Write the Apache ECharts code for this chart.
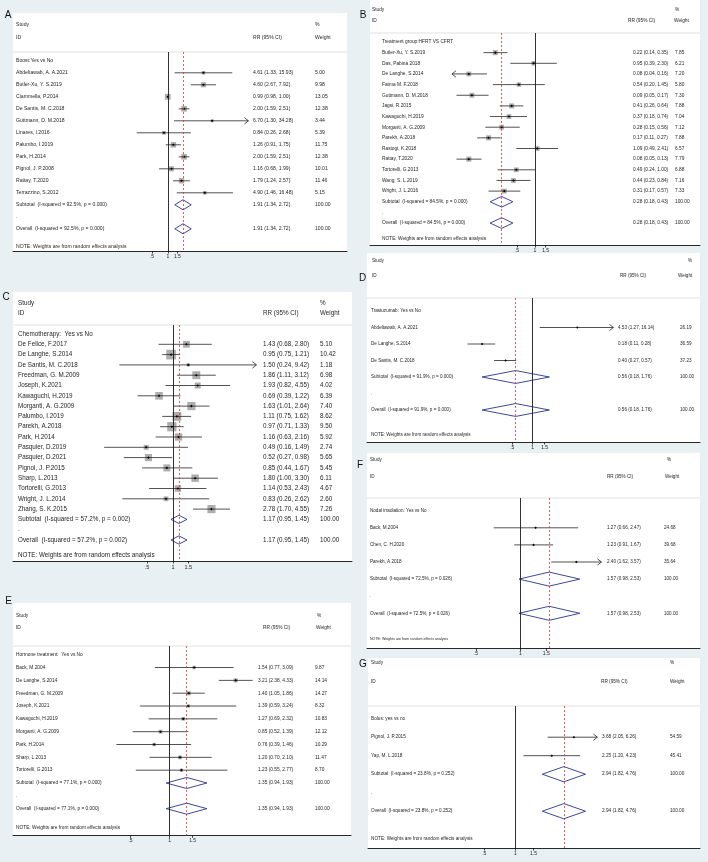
<!DOCTYPE html>
<html><head><meta charset="utf-8">
<script src="https://cdn.jsdelivr.net/npm/echarts@6.0.0/dist/echarts.min.js"></script>
<style>html,body{margin:0;padding:0;background:#e8f0f3}#c{width:708px;height:862px}</style>
</head><body><div id="c"></div>
<script>
// ================= DATA =================
const tickValues = [0.5, 1, 1.5];
const tickLabels = ['.5', '1', '1.5'];
const noteText = 'NOTE: Weights are from random effects analysis';

// Panel A
const aGroup = 'Boost:Yes vs No';
const aStudies = ['Abdeltawab, A. A.2021','Butler-Xu, Y. S.2019','Ciammella, P.2014','De Santis, M. C.2018','Guttmann, D. M.2018','Linares, I.2016','Palumbo, I.2019','Park, H.2014','Pignol, J. P.2008','Rattay, T.2020','Terrazzino, S.2012'];
const aRR = [4.61, 4.60, 0.99, 2.00, 6.70, 0.84, 1.26, 2.00, 1.16, 1.79, 4.90];
const aLo = [1.33, 2.67, 0.98, 1.59, 1.30, 0.26, 0.91, 1.59, 0.68, 1.24, 1.46];
const aHi = [15.93, 7.92, 1.00, 2.51, 34.28, 2.68, 1.75, 2.51, 1.99, 2.57, 16.48];
const aWeight = [5.00, 9.98, 13.05, 12.38, 3.44, 5.39, 11.75, 12.38, 10.01, 11.46, 5.15];
const aPooled = [1.91, 1.34, 2.72];
const aHet = ['92.5%', '0.000'];

// Panel B
const bGroup = 'Treatment group:HFRT VS CFRT';
const bStudies = ['Butler-Xu, Y. S.2019','Das, Pabina 2018','De Langhe, S.2014','Fatma M. F.2018','Guttmann, D. M.2018','Jagsi, R.2015','Kawaguchi, H.2019','Morganti, A. G.2009','Parekh, A.2018','Rastogi, K.2018','Rattay, T.2020','Tortorelli, G.2013','Wang, S. L.2019','Wright, J. L.2016'];
const bRR = [0.22, 0.95, 0.08, 0.54, 0.09, 0.41, 0.37, 0.28, 0.17, 1.09, 0.08, 0.49, 0.44, 0.31];
const bLo = [0.14, 0.39, 0.04, 0.20, 0.05, 0.26, 0.18, 0.15, 0.11, 0.49, 0.05, 0.24, 0.23, 0.17];
const bHi = [0.35, 2.30, 0.16, 1.45, 0.17, 0.64, 0.74, 0.56, 0.27, 2.41, 0.13, 1.00, 0.84, 0.57];
const bWeight = [7.85, 6.21, 7.20, 5.80, 7.30, 7.88, 7.04, 7.12, 7.88, 6.57, 7.79, 6.88, 7.16, 7.33];
const bPooled = [0.28, 0.18, 0.43];
const bHet = ['84.5%', '0.000'];

// Panel C
const cGroup = 'Chemotherapy:  Yes vs No';
const cStudies = ['De Felice, F.2017','De Langhe, S.2014','De Santis, M. C.2018','Freedman, G. M.2009','Joseph, K.2021','Kawaguchi, H.2019','Morganti, A. G.2009','Palumbo, I.2019','Parekh, A.2018','Park, H.2014','Pasquier, D.2019','Pasquier, D.2021','Pignol, J. P.2015','Sharp, L.2013','Tortorelli, G.2013','Wright, J. L.2014','Zhang, S. K.2015'];
const cRR = [1.43, 0.95, 1.50, 1.86, 1.93, 0.69, 1.63, 1.11, 0.97, 1.16, 0.49, 0.52, 0.85, 1.80, 1.14, 0.83, 2.78];
const cLo = [0.68, 0.75, 0.24, 1.11, 0.82, 0.39, 1.01, 0.75, 0.71, 0.63, 0.16, 0.27, 0.44, 1.00, 0.53, 0.26, 1.70];
const cHi = [2.80, 1.21, 9.42, 3.12, 4.55, 1.22, 2.64, 1.62, 1.33, 2.16, 1.49, 0.98, 1.67, 3.30, 2.43, 2.62, 4.55];
const cWeight = [5.10, 10.42, 1.18, 6.98, 4.02, 6.39, 7.40, 8.62, 9.50, 5.92, 2.74, 5.65, 5.45, 6.11, 4.67, 2.60, 7.26];
const cPooled = [1.17, 0.95, 1.45];
const cHet = ['57.2%', '0.002'];

// Panel D
const dGroup = 'Trastuzumab: Yes vs No';
const dStudies = ['Abdeltawab, A. A.2021','De Langhe, S.2014','De Santis, M. C.2018'];
const dRR = [4.53, 0.18, 0.40];
const dLo = [1.27, 0.11, 0.27];
const dHi = [16.14, 0.28, 0.57];
const dWeight = [26.19, 36.59, 37.23];
const dPooled = [0.56, 0.18, 1.76];
const dHet = ['91.9%', '0.000'];

// Panel E
const eGroup = 'Hormone treatment:  Yes vs No';
const eStudies = ['Back, M.2004','De Langhe, S.2014','Freedman, G. M.2009','Joseph, K.2021','Kawaguchi, H.2019','Morganti, A. G.2009','Park, H.2014','Sharp, L.2013','Tortorelli, G.2013'];
const eRR = [1.54, 3.21, 1.40, 1.39, 1.27, 0.85, 0.76, 1.20, 1.23];
const eLo = [0.77, 2.38, 1.05, 0.59, 0.69, 0.52, 0.39, 0.70, 0.55];
const eHi = [3.09, 4.33, 1.86, 3.24, 2.32, 1.39, 1.46, 2.10, 2.77];
const eWeight = [9.87, 14.14, 14.27, 8.32, 10.83, 12.12, 10.29, 11.47, 8.70];
const ePooled = [1.35, 0.94, 1.93];
const eHet = ['77.1%', '0.000'];

// Panel F
const fGroup = 'Nodal irradiation: Yes vs No';
const fStudies = ['Back, M.2004','Chen, C. H.2020','Parekh, A.2018'];
const fRR = [1.27, 1.23, 2.40];
const fLo = [0.66, 0.91, 1.62];
const fHi = [2.47, 1.67, 3.57];
const fWeight = [24.68, 39.68, 35.64];
const fPooled = [1.57, 0.98, 2.53];
const fHet = ['72.5%', '0.026'];

// Panel G
const gGroup = 'Bolus: yes vs no';
const gStudies = ['Pignol, J. P.2015','Yap, M. L.2018'];
const gRR = [3.68, 2.25];
const gLo = [2.05, 1.20];
const gHi = [6.26, 4.23];
const gWeight = [54.59, 45.41];
const gPooled = [2.94, 1.82, 4.76];
const gHet = ['23.8%', '0.252'];

// ================= LAYOUT (pixels) =================
const layout = {
  A:{x0:13,x1:347,top:13,sepY:52,axisY:251,row0Y:60.8,dy:12.0,px1:168,k:23.2,clipMin:1/32,clipMax:32,studyY:25,idY:38,headX:16,nameX:16,rrX:253,rrHeadX:253,wX:315,wHeadX:315,pctX:315,font:5.1,tickFont:5,box:1.6,dia:0.42,letter:[8,15.5]},
  B:{x0:370,x1:700,top:0,sepY:33,axisY:245,row0Y:42,dy:10.65,px1:535,k:26.2,clipMin:0.042,clipMax:24,studyY:10,idY:21,headX:372,nameX:382,rrX:633,rrHeadX:628,wX:675,wHeadX:674,pctX:675,font:4.8,tickFont:5,box:1.8,dia:0.5,letter:[363,15.5]},
  C:{x0:13,x1:352,top:292,sepY:325,axisY:561,row0Y:334,dy:10.3,px1:173,k:37.6,clipMin:0.109,clipMax:9.2,studyY:303,idY:313,headX:18,nameX:18,rrX:263,rrHeadX:263,wX:320,wHeadX:320,pctX:320,font:6.3,tickFont:5.5,box:3.0,dia:0.4,letter:[6,297]},
  D:{x0:367,x1:700,top:253,sepY:298,axisY:442,row0Y:311,dy:16.5,px1:532.7,k:29.5,clipMin:0.065,clipMax:15.4,studyY:261,idY:276,headX:372,nameX:371,rrX:618,rrHeadX:620,wX:680,wHeadX:678,pctX:688,font:4.6,tickFont:5,box:0,dia:0.39,letter:[362.5,278]},
  E:{x0:13,x1:351,top:603,sepY:646,axisY:835.3,row0Y:654.7,dy:12.83,px1:169.7,k:56.6,clipMin:0.2,clipMax:5,studyY:616,idY:628,headX:16,nameX:16,rrX:258,rrHeadX:263,wX:315,wHeadX:316,pctX:317,font:4.8,tickFont:5,box:1.1,dia:0.43,letter:[8.5,601.5]},
  F:{x0:367,x1:700,top:453,sepY:498,axisY:648.5,row0Y:510.7,dy:17.1,px1:520.3,k:64,clipMin:0.28,clipMax:3.55,studyY:460,idY:477,headX:370,nameX:370,rrX:607,rrHeadX:607,wX:664,wHeadX:665,pctX:667,font:4.6,noteFont:3.6,tickFont:5,box:0,dia:0.41,letter:[360,465]},
  G:{x0:368,x1:700,top:658,sepY:706,axisY:848,row0Y:718.7,dy:18.5,px1:515.3,k:45,clipMin:0.16,clipMax:6.2,studyY:663,idY:682,headX:371,nameX:371,rrX:602,rrHeadX:601,wX:670,wHeadX:670,pctX:670,font:4.7,tickFont:5,box:0,dia:0.41,letter:[363,664]}
};

const panelData = [
  {id:'A',group:aGroup,studies:aStudies,rr:aRR,lo:aLo,hi:aHi,w:aWeight,pooled:aPooled,het:aHet},
  {id:'B',group:bGroup,studies:bStudies,rr:bRR,lo:bLo,hi:bHi,w:bWeight,pooled:bPooled,het:bHet},
  {id:'C',group:cGroup,studies:cStudies,rr:cRR,lo:cLo,hi:cHi,w:cWeight,pooled:cPooled,het:cHet},
  {id:'D',group:dGroup,studies:dStudies,rr:dRR,lo:dLo,hi:dHi,w:dWeight,pooled:dPooled,het:dHet},
  {id:'E',group:eGroup,studies:eStudies,rr:eRR,lo:eLo,hi:eHi,w:eWeight,pooled:ePooled,het:eHet},
  {id:'F',group:fGroup,studies:fStudies,rr:fRR,lo:fLo,hi:fHi,w:fWeight,pooled:fPooled,het:fHet},
  {id:'G',group:gGroup,studies:gStudies,rr:gRR,lo:gLo,hi:gHi,w:gWeight,pooled:gPooled,het:gHet}
];

// ================= RENDER =================
const FONT = '"Liberation Sans", Arial, Helvetica, sans-serif';
const TXT = '#1e1e1e';
function txt(x, y, text, size, align, color) {
  align = align || 'left';
  return {type:'text', x:x, y:y, silent:true,
    style:{text:text, font:size + 'px ' + FONT, fill:color || TXT,
      textAlign:align, textVerticalAlign:'middle', align:align, verticalAlign:'middle'}};
}
function fmtCI(r, l, h) { return r.toFixed(2) + ' (' + l.toFixed(2) + ', ' + h.toFixed(2) + ')'; }
function tickFmt(v) {
  const i = tickValues.findIndex(t => Math.abs(t - v) < 1e-6);
  return i >= 0 ? tickLabels[i] : '';
}

function studyRenderer(L) {
  return function (params, api) {
    const rr = api.value(0), row = api.value(1), lo = api.value(2), hi = api.value(3), w = api.value(4);
    const loC = Math.max(lo, L.clipMin), hiC = Math.min(hi, L.clipMax);
    const pL = api.coord([loC, row]), pH = api.coord([hiC, row]), pR = api.coord([rr, row]);
    const ch = [];
    if (L.box > 0) {
      const s = L.box * Math.sqrt(w);
      ch.push({type:'rect', shape:{x:pR[0] - s / 2, y:pR[1] - s / 2, width:s, height:s}, style:{fill:'#adadad'}});
    }
    ch.push({type:'line', shape:{x1:pL[0], y1:pL[1], x2:pH[0], y2:pH[1]}, style:{stroke:'#262626', lineWidth:0.8}});
    const a = 4, h = 3.2;
    if (hi > L.clipMax) ch.push({type:'polyline', shape:{points:[[pH[0] - a, pH[1] - h], [pH[0], pH[1]], [pH[0] - a, pH[1] + h]]}, style:{stroke:'#262626', lineWidth:0.8, fill:'none'}});
    if (lo < L.clipMin) ch.push({type:'polyline', shape:{points:[[pL[0] + a, pL[1] - h], [pL[0], pL[1]], [pL[0] + a, pL[1] + h]]}, style:{stroke:'#262626', lineWidth:0.8, fill:'none'}});
    const r = 1.3;
    ch.push({type:'polygon', shape:{points:[[pR[0] - r, pR[1]], [pR[0], pR[1] - r], [pR[0] + r, pR[1]], [pR[0], pR[1] + r]]}, style:{fill:'#000'}});
    return {type:'group', children:ch};
  };
}
function diamondRenderer(L) {
  return function (params, api) {
    const rr = api.value(0), row = api.value(1), lo = api.value(2), hi = api.value(3);
    const pL = api.coord([lo, row]), pH = api.coord([hi, row]), pR = api.coord([rr, row]);
    const hh = L.dia * L.dy;
    return {type:'polygon', shape:{points:[[pL[0], pL[1]], [pR[0], pR[1] - hh], [pH[0], pH[1]], [pR[0], pR[1] + hh]]},
      style:{fill:'none', stroke:'#27338f', lineWidth:0.9}};
  };
}

const grids = [], xAxes = [], yAxes = [], series = [], graphics = [];
panelData.forEach(function (pd, gi) {
  const L = layout[pd.id];
  const n = pd.studies.length;
  const xMin = Math.exp((L.x0 - L.px1) / L.k), xMax = Math.exp((L.x1 - L.px1) / L.k);
  const yMin = (L.sepY - L.row0Y) / L.dy, yMax = (L.axisY - L.row0Y) / L.dy;
  grids.push({left:L.x0, top:L.sepY, width:L.x1 - L.x0, height:L.axisY - L.sepY, containLabel:false});
  xAxes.push({type:'log', logBase:Math.E, gridIndex:gi, min:xMin, max:xMax, position:'bottom',
    axisLine:{show:true, onZero:false, lineStyle:{color:'#111', width:0.9}},
    axisTick:{show:true, customValues:tickValues, length:2.5, inside:false, lineStyle:{color:'#111', width:0.8}},
    axisLabel:{show:true, customValues:tickValues, formatter:tickFmt, fontSize:L.tickFont, fontFamily:FONT, color:TXT, margin:3},
    splitLine:{show:false}, minorTick:{show:false}, minorSplitLine:{show:false}});
  yAxes.push({type:'value', gridIndex:gi, inverse:true, min:yMin, max:yMax, show:false, splitLine:{show:false}});

  series.push({type:'custom', name:pd.id + ' studies', coordinateSystem:'cartesian2d', xAxisIndex:gi, yAxisIndex:gi,
    encode:{x:[0, 2, 3], y:1}, silent:true, z:4,
    data:pd.studies.map((s, i) => [pd.rr[i], i + 1, pd.lo[i], pd.hi[i], pd.w[i]]),
    renderItem:studyRenderer(L)});

  series.push({type:'custom', name:pd.id + ' pooled', coordinateSystem:'cartesian2d', xAxisIndex:gi, yAxisIndex:gi,
    encode:{x:[0, 2, 3], y:1}, silent:true, z:4,
    data:[[pd.pooled[0], n + 1, pd.pooled[1], pd.pooled[2]], [pd.pooled[0], n + 3, pd.pooled[1], pd.pooled[2]]],
    renderItem:diamondRenderer(L),
    markLine:{silent:true, symbol:['none', 'none'], label:{show:false}, animation:false,
      data:[{xAxis:1, lineStyle:{color:'#1a1a1a', width:0.9, type:'solid'}},
            {xAxis:pd.pooled[0], lineStyle:{color:'#d8353b', width:0.8, type:[2, 2]}}]}});

  const rows = [];
  rows.push({row:0, cells:[[L.nameX, pd.group]]});
  pd.studies.forEach((s, i) => rows.push({row:i + 1, cells:[[L.nameX, s], [L.rrX, fmtCI(pd.rr[i], pd.lo[i], pd.hi[i])], [L.wX, pd.w[i].toFixed(2)]]}));
  const het = '(I-squared = ' + pd.het[0] + ', p = ' + pd.het[1] + ')';
  rows.push({row:n + 1, cells:[[L.nameX, 'Subtotal  ' + het], [L.rrX, fmtCI(pd.pooled[0], pd.pooled[1], pd.pooled[2])], [L.wX, '100.00']]});
  rows.push({row:n + 2, cells:[[L.nameX, '.']]});
  rows.push({row:n + 3, cells:[[L.nameX, 'Overall  ' + het], [L.rrX, fmtCI(pd.pooled[0], pd.pooled[1], pd.pooled[2])], [L.wX, '100.00']]});
  rows.push({row:n + 4.5, cells:[[L.nameX, noteText]], size:L.noteFont});
  series.push({type:'custom', name:pd.id + ' text', coordinateSystem:'cartesian2d', xAxisIndex:gi, yAxisIndex:gi,
    encode:{x:0, y:1}, silent:true, z:5, clip:false,
    data:rows.map(r => [1, r.row]),
    renderItem:function (params, api) {
      const r = rows[params.dataIndex];
      const y = api.coord([1, api.value(1)])[1];
      return {type:'group', children:r.cells.map(c => txt(c[0], y, c[1], r.size || L.font))};
    }});

  graphics.push({type:'rect', z:-10, silent:true, shape:{x:L.x0, y:L.top, width:L.x1 - L.x0, height:L.axisY - L.top}, style:{fill:'#ffffff'}});
  graphics.push({type:'line', z:-9, silent:true, shape:{x1:L.x0, y1:L.sepY, x2:L.x1, y2:L.sepY}, style:{stroke:'#cfcfcf', lineWidth:0.6}});
  graphics.push(txt(L.headX, L.studyY, 'Study', L.font));
  graphics.push(txt(L.headX, L.idY, 'ID', L.font));
  graphics.push(txt(L.pctX, L.studyY, '%', L.font));
  graphics.push(txt(L.rrHeadX, L.idY, 'RR (95% CI)', L.font));
  graphics.push(txt(L.wHeadX, L.idY, 'Weight', L.font));
  graphics.push(txt(L.letter[0], L.letter[1], pd.id, 10, 'center', '#111'));
});

const chart = echarts.init(document.getElementById('c'), null, {renderer:'canvas'});
chart.setOption({
  backgroundColor:'#e8f0f3',
  animation:false,
  grid:grids, xAxis:xAxes, yAxis:yAxes, series:series,
  graphic:{elements:graphics}
});
</script>
</body></html>
